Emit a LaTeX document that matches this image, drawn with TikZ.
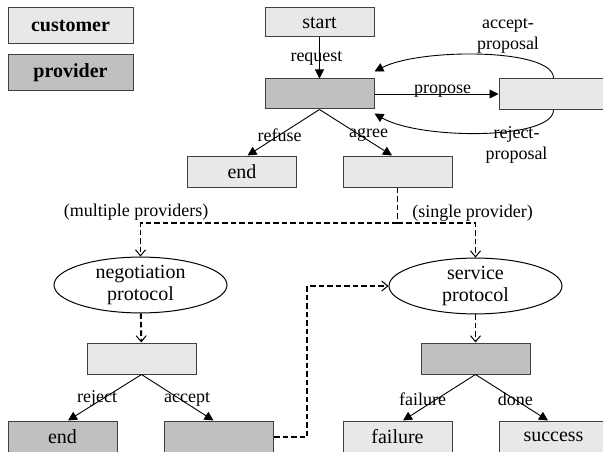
\documentclass[tikz,border=0pt]{standalone}
\usepackage{fontspec}
\setmainfont{Liberation Serif}
\usetikzlibrary{arrows.meta,shapes.geometric}
\definecolor{custc}{HTML}{E8E8E8}
\definecolor{provc}{HTML}{C0C0C0}
\begin{document}
\begin{tikzpicture}[x=1pt,y=-1pt,
 box/.style={draw=black!75,line width=1pt,minimum width=109pt,minimum height=30pt,inner sep=0pt,font=\fontsize{20}{22}\selectfont},
 cust/.style={box,fill=custc},
 prov/.style={box,fill=provc},
 proto/.style={ellipse,draw,line width=1pt,minimum width=173pt,minimum height=54pt,inner sep=0pt,align=center,font=\fontsize{20}{22}\selectfont},
 lbl/.style={font=\fontsize{18}{21}\selectfont,inner sep=0pt},
 solidarr/.style={line width=0.9pt,-{Triangle[length=9pt,width=9pt]}},
 dashline/.style={line width=1.9pt,dash pattern=on 5.5pt off 3pt},
 dasharr/.style={dashline,-{Straight Barb[length=6pt,width=10pt,line width=1pt]}}
]
\useasboundingbox (0,0) rectangle (603,452);
\clip (0,0) rectangle (603,452);

% legend
\node[cust,minimum width=125pt,minimum height=36pt] (legc) at (70.5,26) {\textbf{customer}};
\node[prov,minimum width=125pt,minimum height=36pt] (legp) at (70.5,73) {\textbf{provider}};

% top part
\node[cust,minimum height=29pt] (start) at (319.5,22.5) {start};
\node[prov] (p1) at (319.5,94) {};
\node[cust,minimum height=31pt] (c1) at (553.5,94) {};
\node[cust,minimum height=31pt] (end1) at (242,171.5) {end};
\node[cust,minimum height=31pt] (agr) at (397.5,171.5) {};

% protocols
\node[proto] (neg) at (140.5,285) {negotiation\\protocol};
\node[proto,minimum height=52pt] (serv) at (475.5,286) {service\\protocol};

% lower part
\node[cust,minimum height=31pt] (c2) at (141.5,358.5) {};
\node[prov,minimum height=31pt] (p2) at (475.5,358.5) {};
\node[prov,minimum height=32pt] (end2) at (62.5,437) {end};
\node[prov,minimum height=32pt] (acc) at (219,437) {};
\node[cust,minimum height=32pt] (fail) at (397.5,437) {failure};
\node[cust,minimum height=32pt] (succ) at (553.5,437) {success};

% labels
\node[lbl] (ml) at (136,212) {(multiple providers)};
\node[lbl] (sl) at (472.5,213) {(single provider)};
\node[lbl,align=center] (ap) at (508,36) {accept-\\proposal};
\node[lbl,align=center] (rp) at (516.5,145) {reject-\\proposal};

% solid connectors
\draw[solidarr] (start) -- node[lbl,xshift=-3pt]{request} (p1);
\draw[solidarr] (p1) -- node[lbl,pos=.55,anchor=base,yshift=1pt]{propose} (c1);
\draw[solidarr] (c1.north) .. controls (553.5,48) and (420,48) .. ([yshift=7pt]p1.north east);
\draw[solidarr] (c1.south) .. controls (553.5,140) and (420,140) .. ([yshift=-4pt]p1.south east);
\draw[solidarr] (p1.south) -- node[lbl,pos=.553]{refuse} ([xshift=5.5pt]end1.north);
\draw[solidarr] (p1.south) -- node[lbl,pos=.553,xshift=9pt]{agree} ([xshift=-5.5pt]agr.north);
\draw[solidarr] (c2.south) -- node[lbl,pos=.53,xshift=-5.5pt]{reject} ([xshift=5.5pt]end2.north);
\draw[solidarr] (c2.south) -- node[lbl,pos=.53,xshift=7.5pt]{accept} ([xshift=-5.5pt]acc.north);
\draw[solidarr] (p2.south) -- node[lbl,pos=.53,xshift=-14.5pt]{failure} ([xshift=5.5pt]fail.north);
\draw[solidarr] (p2.south) -- node[lbl,pos=.53,xshift=1.5pt]{done} ([xshift=-5.5pt]succ.north);

% dashed connectors
\coordinate (split) at (397.5,223);
\draw[dashline] (agr.south) -- (split);
\draw[dasharr] (split) -| (neg.north);
\draw[dasharr] (split) -| (serv.north);
\draw[dasharr] (neg) -- (c2);
\draw[dasharr] (serv) -- (p2);
\draw[dasharr] (acc.east) -- ++(33,0) |- (serv.west);
\end{tikzpicture}
\end{document}
